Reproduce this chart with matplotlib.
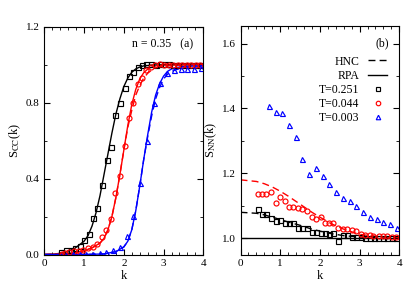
import matplotlib
matplotlib.use('Agg')
import matplotlib.pyplot as plt
from matplotlib.ticker import MultipleLocator

plt.rcParams['font.family'] = ['Liberation Serif', 'DejaVu Serif']
plt.rcParams['mathtext.fontset'] = 'stix'

# ---- panel (a): S_CC(k) ----
k_sq_a = [0.42, 0.545, 0.66, 0.78, 0.90, 1.01, 1.115, 1.23, 1.33, 1.45, 1.57, 1.68, 1.79, 1.90,
          2.02, 2.13, 2.24, 2.35, 2.46, 2.57, 2.68, 2.80, 2.91, 3.02, 3.13, 3.25, 3.36, 3.47,
          3.58, 3.69, 3.81, 3.92]
scc_sq = [0.012, 0.025, 0.023, 0.033, 0.047, 0.079, 0.107, 0.19, 0.245, 0.367, 0.498, 0.568,
          0.735, 0.80, 0.88, 0.94, 0.963, 0.99, 1.0, 1.005, 1.005, 1.0, 1.005, 1.005, 1.005,
          1.0, 1.0, 1.0, 1.0, 1.0, 1.0, 1.0]

k_ci_a = [0.45, 0.53, 0.62, 0.75, 0.87, 0.98, 1.10, 1.22, 1.33, 1.46, 1.56, 1.67, 1.79, 1.90,
          2.02, 2.13, 2.24, 2.35, 2.46, 2.57, 2.68, 2.79, 2.91, 3.02, 3.13, 3.25, 3.36, 3.47,
          3.58, 3.69, 3.81, 3.92]
scc_ci = [0.003, 0.006, 0.011, 0.016, 0.021, 0.025, 0.034, 0.042, 0.056, 0.09, 0.13, 0.187,
          0.326, 0.416, 0.572, 0.72, 0.796, 0.896, 0.93, 0.97, 0.99, 1.0, 1.005, 1.0, 1.0,
          1.0, 0.998, 0.998, 0.998, 0.998, 0.998, 0.998]

k_tr_a = [0.55, 0.72, 0.89, 1.05, 1.22, 1.39, 1.56, 1.73, 1.90, 2.07, 2.24, 2.41, 2.58, 2.75,
          2.92, 3.09, 3.26, 3.43, 3.60, 3.77, 3.94]
scc_tr = [0.0, 0.001, 0.002, 0.003, 0.004, 0.006, 0.012, 0.025, 0.042, 0.095, 0.204, 0.376,
          0.596, 0.80, 0.906, 0.956, 0.972, 0.975, 0.978, 0.98, 0.983]

k_blk_line = [0, 0.25, 0.5, 0.75, 1.0, 1.1, 1.2, 1.3, 1.4, 1.5, 1.6, 1.7, 1.8, 1.9, 2.0, 2.1,
              2.2, 2.3, 2.4, 2.5, 2.7, 3.0, 4.0]
scc_blk_line = [0.0, 0.002, 0.01, 0.03, 0.07, 0.10, 0.15, 0.22, 0.31, 0.42, 0.53, 0.64, 0.74,
                0.82, 0.885, 0.93, 0.96, 0.978, 0.988, 0.994, 0.998, 1.0, 1.0]

k_red_line = [0, 0.5, 0.75, 1.0, 1.2, 1.4, 1.5, 1.6, 1.7, 1.8, 1.9, 2.0, 2.1, 2.2, 2.3, 2.4,
              2.5, 2.6, 2.7, 2.8, 3.0, 3.5, 4.0]
scc_red_rpa = [0.0, 0.003, 0.008, 0.02, 0.035, 0.06, 0.085, 0.13, 0.2, 0.3, 0.42, 0.55, 0.68,
               0.79, 0.87, 0.925, 0.958, 0.977, 0.988, 0.994, 0.998, 1.0, 1.0]
scc_red_hnc = [0.0, 0.003, 0.008, 0.02, 0.035, 0.06, 0.085, 0.13, 0.2, 0.3, 0.42, 0.55, 0.67,
               0.76, 0.84, 0.89, 0.93, 0.955, 0.972, 0.983, 0.993, 0.999, 1.0]

k_blu_line = [0, 1.0, 1.5, 1.8, 2.0, 2.1, 2.2, 2.3, 2.4, 2.5, 2.6, 2.7, 2.8, 2.9, 3.0, 3.1,
              3.2, 3.4, 3.6, 4.0]
scc_blu_rpa = [0.0, 0.0, 0.003, 0.015, 0.04, 0.07, 0.13, 0.23, 0.36, 0.5, 0.63, 0.75, 0.84,
               0.9, 0.94, 0.965, 0.978, 0.988, 0.992, 0.995]
scc_blu_hnc = [0.0, 0.0, 0.003, 0.015, 0.04, 0.07, 0.13, 0.23, 0.36, 0.5, 0.62, 0.73, 0.82,
               0.88, 0.925, 0.95, 0.965, 0.98, 0.987, 0.99]

# ---- panel (b): S_NN(k) ----
k_sq_b = [0.44, 0.545, 0.64, 0.77, 0.89, 1.0, 1.11, 1.23, 1.33, 1.46, 1.56, 1.67, 1.79, 1.91,
          2.02, 2.13, 2.24, 2.34, 2.45, 2.58, 2.68, 2.81, 2.92, 3.03, 3.14, 3.25, 3.36, 3.47,
          3.58, 3.69, 3.81, 3.92]
snn_sq = [1.090, 1.074, 1.074, 1.062, 1.054, 1.056, 1.048, 1.046, 1.046, 1.033, 1.033, 1.033,
          1.020, 1.018, 1.015, 1.015, 1.012, 1.017, 0.993, 1.010, 1.009, 1.005, 1.005, 1.003,
          1.0, 1.0, 1.0, 1.0, 1.001, 1.0, 1.001, 1.002]

k_ci_b = [0.44, 0.545, 0.65, 0.77, 0.89, 1.0, 1.11, 1.23, 1.33, 1.44, 1.56, 1.67, 1.79, 1.90,
          2.02, 2.13, 2.24, 2.34, 2.45, 2.58, 2.68, 2.80, 2.91, 3.03, 3.14, 3.25, 3.35, 3.48,
          3.58, 3.69, 3.82, 3.92]
snn_ci = [1.136, 1.136, 1.136, 1.144, 1.110, 1.128, 1.115, 1.096, 1.095, 1.092, 1.089, 1.084,
          1.064, 1.060, 1.064, 1.048, 1.046, 1.046, 1.033, 1.028, 1.028, 1.026, 1.023, 1.012,
          1.010, 1.009, 1.008, 1.008, 1.007, 1.007, 1.003, 1.005]

k_tr_b = [0.706, 0.89, 1.04, 1.21, 1.39, 1.56, 1.72, 1.90, 2.07, 2.24, 2.40, 2.57, 2.75, 2.91,
          3.09, 3.26, 3.43, 3.60, 3.77, 3.95]
snn_tr = [1.406, 1.39, 1.385, 1.348, 1.313, 1.244, 1.197, 1.216, 1.193, 1.166, 1.144, 1.125,
          1.116, 1.098, 1.08, 1.067, 1.06, 1.05, 1.043, 1.033]

k_hnc_b = [0, 0.4, 0.6, 0.8, 1.0, 1.2, 1.5, 1.8, 2.0, 2.3, 2.6, 3.0, 3.5, 4.0]
snn_blk_hnc = [1.08, 1.077, 1.072, 1.065, 1.058, 1.05, 1.04, 1.028, 1.022, 1.014, 1.008, 1.004,
               1.001, 1.0]
snn_red_hnc = [1.18, 1.175, 1.168, 1.158, 1.145, 1.13, 1.105, 1.08, 1.065, 1.044, 1.028,
               1.012, 1.005, 1.002]
k_rpa_b = [0, 4]
snn_rpa = [1.0, 1.0]

dash = (0, (5, 3))
ms = 3.6
mew = 0.85

fig = plt.figure(figsize=(4.07, 2.85), dpi=100)
ax1 = fig.add_axes([0.109, 0.107, 0.3905, 0.799])
ax2 = fig.add_axes([0.591, 0.107, 0.390, 0.803])

# panel (a)
ax1.plot(k_blk_line, scc_blk_line, '-', color='k', lw=1.0)
ax1.plot(k_red_line, scc_red_hnc, color='r', lw=1.0, linestyle=dash)
ax1.plot(k_red_line, scc_red_rpa, '-', color='r', lw=1.0)
ax1.plot(k_blu_line, scc_blu_hnc, color='b', lw=1.0, linestyle=dash)
ax1.plot(k_blu_line, scc_blu_rpa, '-', color='b', lw=1.0)
ax1.plot(k_sq_a, scc_sq, 's', mfc='none', mec='k', ms=ms, mew=mew)
ax1.plot(k_ci_a, scc_ci, 'o', mfc='none', mec='r', ms=ms, mew=mew)
ax1.plot(k_tr_a, scc_tr, '^', mfc='none', mec='b', ms=ms, mew=mew)
ax1.set_xlim(0, 4)
ax1.set_ylim(0, 1.2)
ax1.xaxis.set_major_locator(MultipleLocator(1))
ax1.xaxis.set_minor_locator(MultipleLocator(0.2))
ax1.yaxis.set_major_locator(MultipleLocator(0.4))
ax1.yaxis.set_minor_locator(MultipleLocator(0.2))
ax1.set_yticklabels(['%.1f' % v for v in ax1.get_yticks()])
ax1.set_xlabel('k', fontsize=9, labelpad=1)
ax1.set_ylabel(r'S$_{\mathrm{CC}}$(k)', fontsize=9, labelpad=2)
ax1.text(0.935, 0.95, 'n = 0.35   (a)', transform=ax1.transAxes, fontsize=8.5,
         ha='right', va='top')

# panel (b)
ax2.plot(k_hnc_b, snn_blk_hnc, color='k', lw=1.0, linestyle=dash, label='HNC')
ax2.plot(k_rpa_b, snn_rpa, '-', color='k', lw=1.0, label='RPA')
ax2.plot(k_hnc_b, snn_red_hnc, color='r', lw=1.0, linestyle=dash)
ax2.plot(k_sq_b, snn_sq, 's', mfc='none', mec='k', ms=ms, mew=mew, label='T=0.251')
ax2.plot(k_ci_b, snn_ci, 'o', mfc='none', mec='r', ms=ms, mew=mew, label='T=0.044')
ax2.plot(k_tr_b, snn_tr, '^', mfc='none', mec='b', ms=ms, mew=mew, label='T=0.003')
ax2.set_xlim(0, 4)
ax2.set_ylim(0.95, 1.655)
ax2.xaxis.set_major_locator(MultipleLocator(1))
ax2.xaxis.set_minor_locator(MultipleLocator(0.2))
ax2.yaxis.set_major_locator(MultipleLocator(0.2))
ax2.yaxis.set_minor_locator(MultipleLocator(0.1))
ax2.set_xlabel('k', fontsize=9, labelpad=1)
ax2.set_ylabel(r'S$_{\mathrm{NN}}$(k)', fontsize=9, labelpad=2)
ax2.text(0.935, 0.95, '(b)', transform=ax2.transAxes, fontsize=8.5, ha='right', va='top')
ax2.legend(loc='upper right', bbox_to_anchor=(0.955, 0.89), frameon=False, fontsize=8.5,
           markerfirst=False, handlelength=1.65, handletextpad=0.7, labelspacing=0.18,
           borderaxespad=0.0, markerscale=0.9)

for ax in (ax1, ax2):
    ax.tick_params(which='both', direction='in', top=True, right=True, labelsize=8)
    ax.tick_params(which='major', length=4, width=0.8)
    ax.tick_params(which='minor', length=2, width=0.6)
    for s in ax.spines.values():
        s.set_linewidth(0.8)

plt.savefig('out.png', dpi=100)
